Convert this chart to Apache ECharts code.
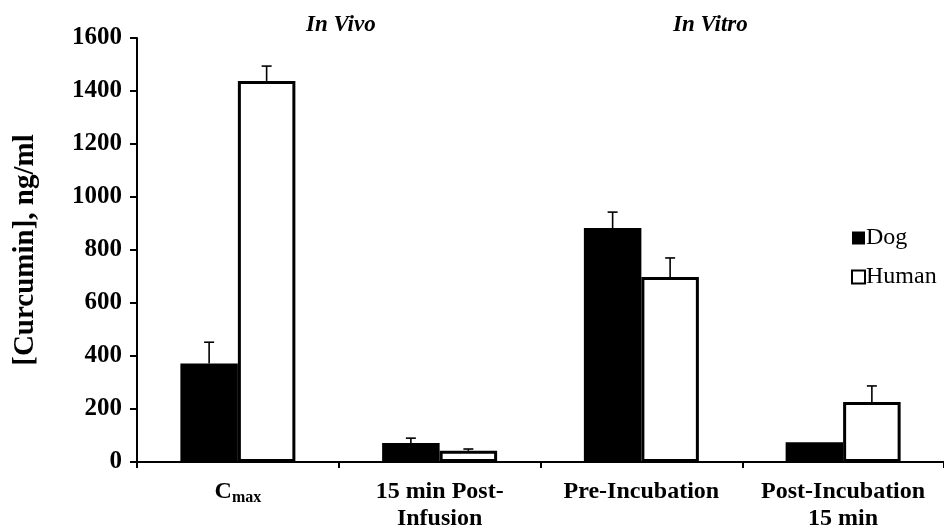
<!DOCTYPE html>
<html><head><meta charset="utf-8">
<script src="https://cdn.jsdelivr.net/npm/echarts@6/dist/echarts.min.js"></script>
<style>html,body{margin:0;padding:0;background:#fff}#c{width:944px;height:531px}</style>
</head><body><div id="c"></div>
<script>
const categories = ['Cmax', '15 min Post-\nInfusion', 'Pre-Incubation', 'Post-Incubation\n15 min'];
const dogValues = [372, 72, 883, 75];
const dogErrors = [80, 18, 60, 0];
const humanValues = [1438, 42, 698, 226];
const humanErrors = [56, 7, 72, 61];
const yTicks = [0, 200, 400, 600, 800, 1000, 1200, 1400, 1600];
const groupLabels = ['In Vivo', 'In Vitro'];

const FONT = '"Liberation Serif", "Times New Roman", serif';
const GAP = 0.43;

function errRender(values, errors, side) {
  return function (params, api) {
    const i = api.value(0);
    const v = values[i], e = errors[i];
    if (!e) return null;
    const catW = api.size([1, 0])[0];
    const off = side * catW * (1 - GAP) / 4;
    const base = api.coord([i, v]);
    const top = api.coord([i, v + e]);
    const x = base[0] + off;
    const cap = 5;
    const st = { stroke: '#000', lineWidth: 1.6 };
    return { type: 'group', children: [
      { type: 'line', shape: { x1: x, y1: base[1], x2: x, y2: top[1] }, style: st },
      { type: 'line', shape: { x1: x - cap, y1: top[1], x2: x + cap, y2: top[1] }, style: st }
    ]};
  };
}

const chart = echarts.init(document.getElementById('c'));
chart.setOption({
  animation: false,
  backgroundColor: '#fff',
  grid: { left: 137, right: 0, top: 38, bottom: 69, containLabel: false, outerBoundsMode: 'none' },
  graphic: [
    { type: 'text', left: 306, top: 14, style: { text: groupLabels[0], font: 'italic bold 23px ' + FONT, fill: '#000' } },
    { type: 'text', left: 673, top: 14, style: { text: groupLabels[1], font: 'italic bold 23px ' + FONT, fill: '#000' } }
  ],
  legend: {
    orient: 'vertical', left: 846, top: 221, itemGap: 15,
    itemWidth: 13, itemHeight: 13, icon: 'rect',
    textStyle: { fontFamily: FONT, fontSize: 24, color: '#000', padding: [0, 0, 0, -4] },
    data: [
      { name: 'Dog', itemStyle: { color: '#000', borderWidth: 0 } },
      { name: 'Human', itemStyle: { color: '#fff', borderColor: '#000', borderWidth: 2 } }
    ]
  },
  xAxis: {
    type: 'category', data: categories,
    axisLine: { lineStyle: { color: '#000', width: 2 } },
    axisTick: { show: true, length: 6, lineStyle: { color: '#000', width: 2 } },
    axisLabel: {
      interval: 0, margin: 16, color: '#000', fontFamily: FONT, fontWeight: 'bold', fontSize: 24, lineHeight: 27,
      formatter: function (v) { return v === 'Cmax' ? '{b|C}{s|max}' : v; },
      rich: {
        b: { fontFamily: FONT, fontWeight: 'bold', fontSize: 24, color: '#000', lineHeight: 27 },
        s: { fontFamily: FONT, fontWeight: 'bold', fontSize: 16, color: '#000', lineHeight: 27, padding: [12, 0, 0, 0] }
      }
    }
  },
  yAxis: {
    type: 'value', min: 0, max: 1600, interval: 200,
    name: '[Curcumin], ng/ml', nameLocation: 'middle', nameGap: 97,
    nameTextStyle: { fontFamily: FONT, fontWeight: 'bold', fontSize: 29, color: '#000' },
    axisLine: { show: true, lineStyle: { color: '#000', width: 2 } },
    axisTick: { show: true, length: 7, lineStyle: { color: '#000', width: 2 } },
    splitLine: { show: false },
    axisLabel: {
      margin: 15, color: '#000', fontFamily: FONT, fontWeight: 'bold', fontSize: 25,
      formatter: function (v) { return yTicks.indexOf(v) >= 0 ? String(v) : ''; }
    }
  },
  series: [
    { name: 'Dog', type: 'bar', data: dogValues, barGap: '0%', barCategoryGap: (GAP * 100) + '%',
      itemStyle: { color: '#000' } },
    { name: 'Human', type: 'bar', data: humanValues, barGap: '0%', barCategoryGap: (GAP * 100) + '%',
      itemStyle: { color: '#fff', borderColor: '#000', borderWidth: 3 } },
    { name: 'dogErr', type: 'custom', data: categories.map((c, i) => [i]), renderItem: errRender(dogValues, dogErrors, -1), z: 5, silent: true },
    { name: 'humanErr', type: 'custom', data: categories.map((c, i) => [i]), renderItem: errRender(humanValues, humanErrors, 1), z: 5, silent: true }
  ]
});
</script></body></html>
